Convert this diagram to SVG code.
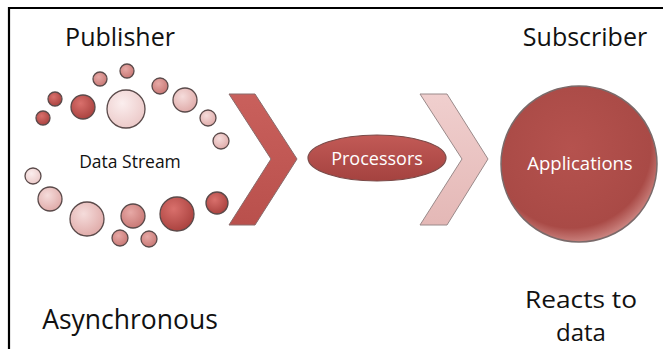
<svg xmlns="http://www.w3.org/2000/svg" width="663" height="349" viewBox="0 0 663 349">
<style>
.lbl{font-family:"Open Sans","Liberation Sans",sans-serif;fill:#111}
.wt{font-family:"Open Sans","Liberation Sans",sans-serif;fill:#fff}
.b{stroke:#5a4a4a;stroke-width:1.3}
</style>
<defs>
<radialGradient id="gd" cx="0.4" cy="0.35" r="0.7"><stop offset="0" stop-color="#d9706c"/><stop offset="1" stop-color="#a8403d"/></radialGradient>
<radialGradient id="gm" cx="0.4" cy="0.35" r="0.7"><stop offset="0" stop-color="#e7a9a6"/><stop offset="1" stop-color="#c77673"/></radialGradient>
<radialGradient id="gl" cx="0.4" cy="0.35" r="0.7"><stop offset="0" stop-color="#f5dcdb"/><stop offset="1" stop-color="#dfa9a7"/></radialGradient>
<radialGradient id="gv" cx="0.4" cy="0.35" r="0.7"><stop offset="0" stop-color="#fbeeee"/><stop offset="1" stop-color="#ebc8c7"/></radialGradient>
<linearGradient id="ch1" x1="0" y1="0" x2="0" y2="1"><stop offset="0" stop-color="#c9605c"/><stop offset="1" stop-color="#b9504c"/></linearGradient>
<linearGradient id="ch2" x1="0" y1="0" x2="0" y2="1"><stop offset="0" stop-color="#f0cfce"/><stop offset="1" stop-color="#e4b8b6"/></linearGradient>
<linearGradient id="pr" x1="0" y1="0" x2="0" y2="1"><stop offset="0" stop-color="#c25a56"/><stop offset="1" stop-color="#a4423f"/></linearGradient>
<radialGradient id="ap" cx="0.45" cy="0.4" r="0.6"><stop offset="0" stop-color="#b5524e"/><stop offset="0.85" stop-color="#a94a46"/><stop offset="1" stop-color="#c9807c"/></radialGradient>
</defs>
<rect width="663" height="349" fill="#fff"/>
<path d="M9,349 V8 H663" fill="none" stroke="#000" stroke-width="2.2"/>

<text class="lbl" x="120" y="46" font-size="25" text-anchor="middle">Publisher</text>
<text class="lbl" x="585" y="46" font-size="25" text-anchor="middle">Subscriber</text>
<text class="lbl" x="130" y="329" font-size="26.5" text-anchor="middle">Asynchronous</text>
<text class="lbl" x="581" y="308" font-size="24" text-anchor="middle" textLength="112" lengthAdjust="spacingAndGlyphs">Reacts to</text>
<text class="lbl" x="581" y="341" font-size="24" text-anchor="middle">data</text>

<g id="datastream">
<circle class="b" cx="127" cy="71" r="7" fill="url(#gm)"/>
<circle class="b" cx="100" cy="79" r="7" fill="url(#gm)"/>
<circle class="b" cx="55" cy="99" r="7" fill="url(#gd)"/>
<circle class="b" cx="43" cy="118" r="7" fill="url(#gd)"/>
<circle class="b" cx="83" cy="107" r="12" fill="url(#gd)"/>
<circle class="b" cx="126" cy="109" r="19" fill="url(#gv)"/>
<circle class="b" cx="160" cy="86" r="8" fill="url(#gm)"/>
<circle class="b" cx="185" cy="100" r="12" fill="url(#gl)"/>
<circle class="b" cx="208" cy="118" r="8" fill="url(#gl)"/>
<circle class="b" cx="221" cy="141" r="8" fill="url(#gl)"/>
<circle class="b" cx="33" cy="176" r="8" fill="url(#gv)"/>
<circle class="b" cx="50" cy="199" r="12" fill="url(#gl)"/>
<circle class="b" cx="87" cy="219" r="17" fill="url(#gl)"/>
<circle class="b" cx="133" cy="216" r="12" fill="url(#gm)"/>
<circle class="b" cx="177" cy="214" r="17" fill="url(#gd)"/>
<circle class="b" cx="217" cy="203" r="11" fill="url(#gd)"/>
<circle class="b" cx="120" cy="238" r="8" fill="url(#gm)"/>
<circle class="b" cx="149" cy="239" r="8" fill="url(#gm)"/>
<text class="lbl" x="130" y="168" font-size="17.5" text-anchor="middle">Data Stream</text>
</g>

<g id="chevron1">
<path d="M229,94 H255 L297,159 L255,225 H229 L271,159 Z" fill="url(#ch1)" stroke="#8a6a6a" stroke-width="1"/>
</g>

<g id="processors">
<ellipse cx="377" cy="158" rx="69" ry="23" fill="url(#pr)" stroke="#7a4a48" stroke-width="1.2"/>
<text class="wt" x="377" y="164.5" font-size="18" text-anchor="middle">Processors</text>
</g>

<g id="chevron2">
<path d="M420,94 H447 L488,159 L447,225 H420 L462,159 Z" fill="url(#ch2)" stroke="#9a8a8a" stroke-width="1"/>
</g>

<g id="applications">
<circle cx="579" cy="164" r="78" fill="url(#ap)" stroke="#7a6a6a" stroke-width="1.5"/>
<text class="wt" x="580" y="170" font-size="18.5" text-anchor="middle">Applications</text>
</g>
</svg>
